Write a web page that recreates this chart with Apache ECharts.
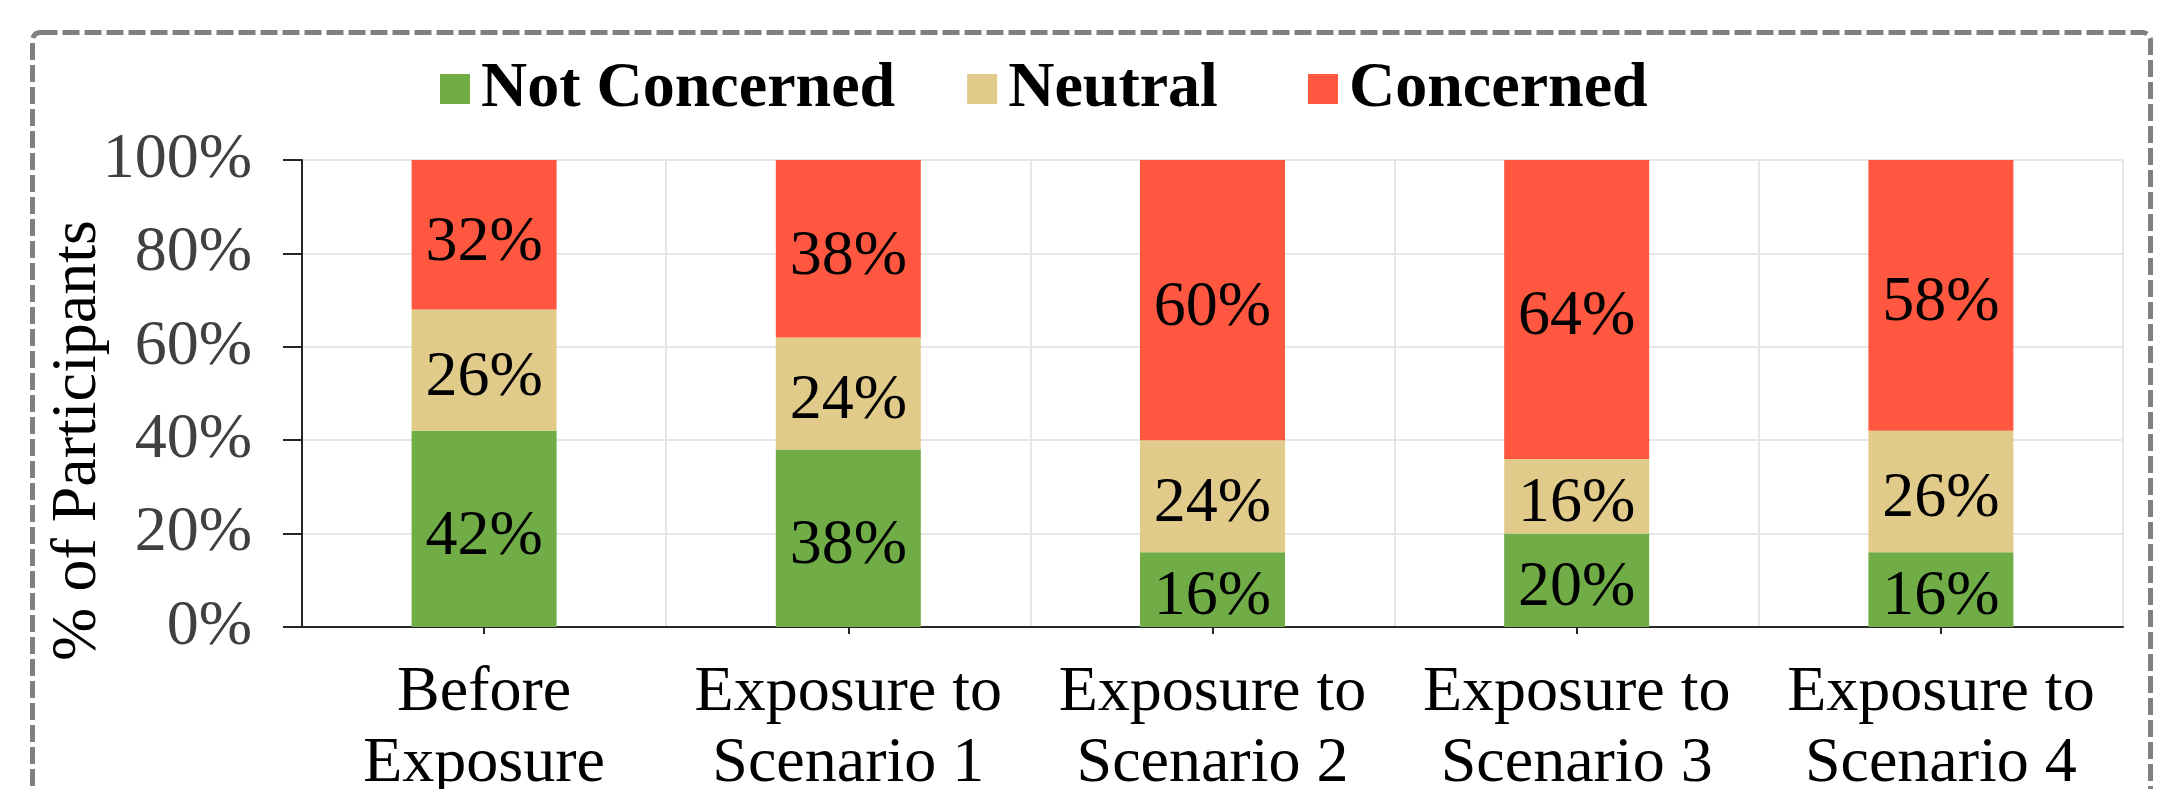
<!DOCTYPE html>
<html>
<head>
<meta charset="utf-8">
<script src="https://cdn.jsdelivr.net/npm/echarts@6/dist/echarts.min.js"></script>
<style>
  html, body { margin: 0; padding: 0; background: #ffffff; }
  #chart { width: 2176px; height: 789px; }
</style>
</head>
<body>
<div id="chart"></div>
<script>
// Survey stages along the x axis
const categories = [
  'Before\nExposure',
  'Exposure to\nScenario 1',
  'Exposure to\nScenario 2',
  'Exposure to\nScenario 3',
  'Exposure to\nScenario 4'
];

// Share of participants (%) per stage
const notConcerned = [42, 38, 16, 20, 16];
const neutral      = [26, 24, 24, 16, 26];
const concerned    = [32, 38, 60, 64, 58];

const seriesNames  = ['Not Concerned', 'Neutral', 'Concerned'];
const seriesColors = ['#70AD47', '#E1CB8B', '#FF5740'];

const FONT = '"Liberation Serif", "Times New Roman", serif';

const chart = echarts.init(document.getElementById('chart'), null, { renderer: 'canvas' });

function barSeries(name, values, color) {
  return {
    name: name,
    type: 'bar',
    stack: 'total',
    xAxisIndex: 0,
    barWidth: 145,
    itemStyle: { color: color },
    label: {
      show: true,
      position: 'inside',
      offset: [0, 8],
      formatter: p => p.value + '%',
      color: '#000000',
      fontFamily: FONT,
      fontSize: 64
    },
    emphasis: { disabled: true },
    data: values
  };
}

const legendBase = {
  top: 52,
  itemWidth: 30,
  itemHeight: 30,
  itemGap: 72,
  icon: 'rect',
  textStyle: {
    fontFamily: FONT,
    fontWeight: 'bold',
    fontSize: 64,
    color: '#000000',
    padding: [0, 0, 0, 6]
  }
};

const option = {
  backgroundColor: '#ffffff',
  animation: false,
  color: seriesColors,
  graphic: [{
    type: 'rect',
    left: 30,
    top: 30,
    shape: { width: 2118, height: 820, r: 8 },
    style: {
      fill: 'none',
      stroke: '#808080',
      lineWidth: 5,
      lineDash: [17, 5]
    },
    silent: true,
    z: -1
  }],
  legend: [
    Object.assign({}, legendBase, { data: [seriesNames[0], seriesNames[1]], left: 435 }),
    Object.assign({}, legendBase, { data: [seriesNames[2]], left: 1303 })
  ],
  grid: {
    left: 302,
    right: 53,
    top: 160,
    bottom: 162,
    containLabel: false,
    outerBoundsMode: 'none'
  },
  xAxis: [{
    type: 'category',
    data: categories,
    axisLine: { lineStyle: { color: '#262626', width: 2 } },
    axisTick: { show: true, alignWithLabel: true, inside: false, length: 7, lineStyle: { color: '#262626', width: 2 } },
    splitLine: { show: true, lineStyle: { color: '#E6E6E6', width: 2 } },
    axisLabel: {
      color: '#000000',
      fontFamily: FONT,
      fontSize: 64,
      lineHeight: 71,
      margin: 31,
      interval: 0
    }
  }, {
    // inner half of the category ticks, so they cross the baseline
    type: 'category',
    data: categories,
    position: 'bottom',
    axisLine: { show: false },
    axisTick: { show: true, alignWithLabel: true, inside: true, length: 8, lineStyle: { color: '#262626', width: 2 } },
    axisLabel: { show: false },
    splitLine: { show: false }
  }],
  yAxis: {
    type: 'value',
    min: 0,
    max: 100,
    interval: 20,
    name: '% of Participants',
    nameLocation: 'middle',
    nameGap: 192,
    nameMoveOverlap: false,
    nameTextStyle: {
      fontFamily: FONT,
      fontSize: 64,
      color: '#000000',
      padding: [0, 94, 0, 0]
    },
    axisLine: { show: true, lineStyle: { color: '#262626', width: 2 } },
    axisTick: { show: true, inside: false, length: 19, lineStyle: { color: '#262626', width: 2 } },
    splitLine: { show: true, lineStyle: { color: '#E6E6E6', width: 2 } },
    axisLabel: {
      formatter: '{value}%',
      color: '#404040',
      fontFamily: FONT,
      fontSize: 64,
      margin: 50
    }
  },
  series: [
    barSeries(seriesNames[0], notConcerned, seriesColors[0]),
    barSeries(seriesNames[1], neutral, seriesColors[1]),
    barSeries(seriesNames[2], concerned, seriesColors[2])
  ]
};

chart.setOption(option);
</script>
</body>
</html>
